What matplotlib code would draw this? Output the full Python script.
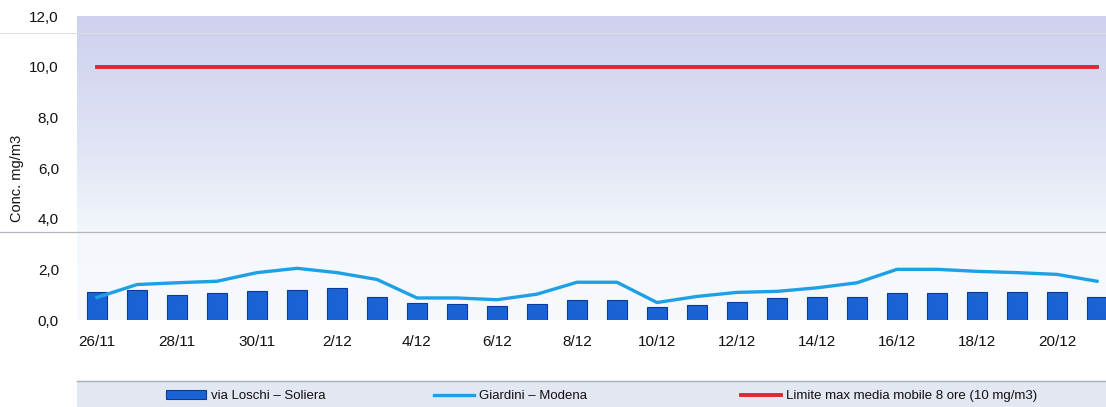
import matplotlib
matplotlib.use('Agg')
import matplotlib.pyplot as plt
import numpy as np
from matplotlib.colors import LinearSegmentedColormap
from matplotlib.lines import Line2D
from matplotlib.patches import Rectangle

plt.rcParams['font.family'] = ['Liberation Sans', 'DejaVu Sans']

# dati
giorni = ["26/11", "27/11", "28/11", "29/11", "30/11", "1/12", "2/12", "3/12", "4/12",
          "5/12", "6/12", "7/12", "8/12", "9/12", "10/12", "11/12", "12/12", "13/12",
          "14/12", "15/12", "16/12", "17/12", "18/12", "19/12", "20/12", "21/12"]
soliera = [1.10, 1.19, 0.99, 1.07, 1.13, 1.17, 1.25, 0.91, 0.67, 0.63, 0.56, 0.65, 0.80,
           0.80, 0.52, 0.60, 0.71, 0.87, 0.89, 0.92, 1.05, 1.07, 1.10, 1.10, 1.10, 0.90]
modena = [0.89, 1.40, 1.47, 1.53, 1.87, 2.04, 1.87, 1.60, 0.87, 0.87, 0.80, 1.02, 1.49,
          1.49, 0.69, 0.93, 1.09, 1.13, 1.27, 1.47, 2.00, 2.00, 1.92, 1.87, 1.80, 1.53]
limite = 10.0
yticks = [0, 2, 4, 6, 8, 10, 12]

col_bar = "#1a63d4"
col_bar_edge = "#0b3a9a"
col_mod = "#1fa0e6"
col_lim = "#e0282f"
col_txt = "#111111"

W, H = 1106, 407
fig = plt.figure(figsize=(W / 100, H / 100), dpi=100)
fig.patch.set_facecolor("white")

# area del grafico (esce un po' a destra, come nel ritaglio originale)
ax = fig.add_axes([77 / W, (H - 320) / H, 1040 / W, 304 / H])
x = np.arange(len(giorni))

# sfondo sfumato lavanda -> bianco
cmap = LinearSegmentedColormap.from_list(
    "sfondo", [(0.0, "#f7f9fc"), (0.28, "#f4f8fc"), (0.38, "#ecf1f9"),
               (0.55, "#e1e5f5"), (0.8, "#d6d9f1"), (1.0, "#cfd1ee")])
grad = np.linspace(0, 1, 256).reshape(-1, 1)
ax.imshow(grad, cmap=cmap, origin="lower", aspect="auto",
          extent=[-0.5, len(giorni) - 0.5, 0, 12], zorder=0)

barre = ax.bar(x, soliera, width=0.48, color=col_bar, edgecolor=col_bar_edge, linewidth=0.8,
               zorder=2, label="via Loschi \u2013 Soliera")
linea_mod, = ax.plot(x, modena, color=col_mod, lw=2.4, zorder=3, label="Giardini \u2013 Modena")
linea_lim, = ax.plot(x, [limite] * len(x), color=col_lim, lw=2.8, zorder=3,
                     label="Limite max media mobile 8 ore (10 mg/m3)")

ax.set_xlim(-0.5, len(giorni) - 0.5)
ax.set_ylim(0, 12)
ax.set_yticks(yticks)
ax.set_yticklabels([f"{v:.1f}".replace(".", ",") for v in yticks])
ax.set_xticks(x[::2])
ax.set_xticklabels(giorni[::2])
ax.tick_params(axis="y", length=0, pad=13, labelsize=11, labelcolor=col_txt)
ax.tick_params(axis="x", length=0, pad=11, labelsize=11, labelcolor=col_txt)
for s in ax.spines.values():
    s.set_visible(False)

ax.set_ylabel("Conc. mg/m3", fontsize=10.5, color=col_txt, va="center")
ax.yaxis.set_label_coords((17 - 77) / 1040, (320 - 178) / 304)

# righe del foglio scansionato
fig.add_artist(Line2D([0, 1], [(H - 232) / H] * 2, color="#b4b7be", lw=0.9))
fig.add_artist(Line2D([0, 1], [(H - 33) / H] * 2, color="#dcdde3", lw=0.7))

# riquadro legenda
fig.add_artist(Rectangle((77 / W, 0), 1 - 77 / W, (H - 381) / H, transform=fig.transFigure,
                         facecolor="#e3e7f1", edgecolor="none", zorder=0))
fig.add_artist(Line2D([77 / W, 1], [(H - 381) / H] * 2, color="#a9adb8", lw=1.0))

handles = [barre, linea_mod, linea_lim]
labels = [h.get_label() for h in handles]
pos_leg = [166, 434, 741]
for h, l, px in zip(handles, labels, pos_leg):
    fig.legend([h], [l], loc="center left", bbox_to_anchor=(px / W, (H - 396) / H),
               frameon=False, fontsize=9.5, handlelength=3.0, handletextpad=0.4,
               borderpad=0, borderaxespad=0, labelcolor=col_txt)

plt.savefig("out.png", dpi=100)
